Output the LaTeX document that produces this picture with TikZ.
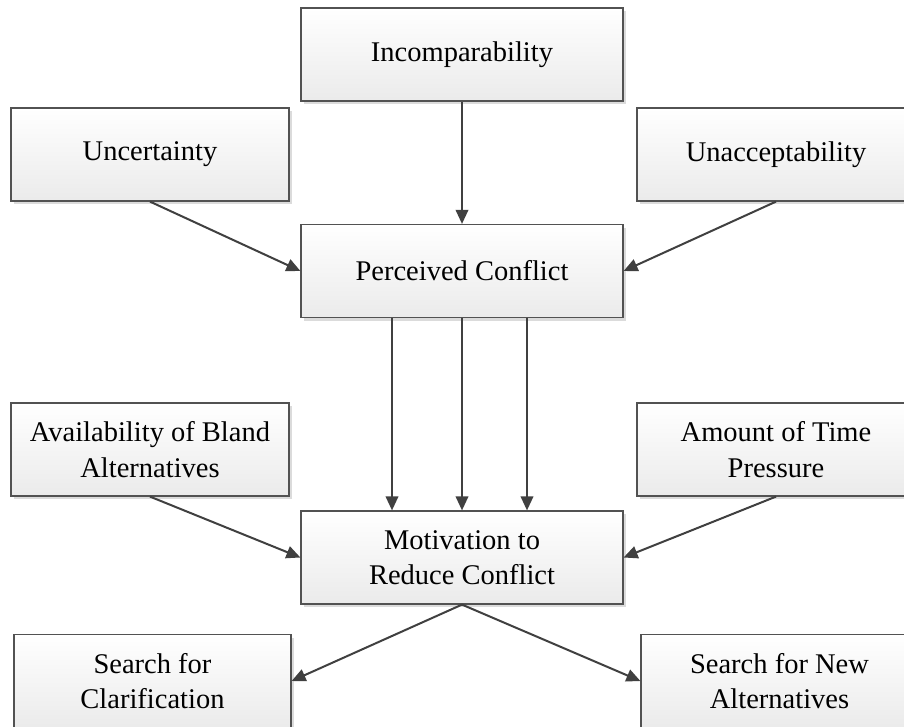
\documentclass[tikz,border=0pt]{standalone}
\usepackage{fontspec}
\setmainfont{Liberation Serif}
\usetikzlibrary{arrows.meta,shadows,calc}
\begin{document}
\begin{tikzpicture}[x=1pt,y=-1pt,
  box/.style={rectangle, draw=black!68, line width=1.2pt,
    top color=white, bottom color=black!8,
    general shadow={fill=black!14, shadow xshift=3pt, shadow yshift=-3pt},
    inner sep=0pt, align=center,
    font=\fontsize{28.5}{35.5}\selectfont},
  wide/.style={box, minimum width=322pt, minimum height=93pt},
  side/.style={box, minimum width=278pt, minimum height=93pt},
  arr/.style={draw=black!75, line width=2pt,
    -{Triangle[length=14pt,width=12.5pt]}}]
\useasboundingbox (0,0) rectangle (904,726);
\clip (0,0) rectangle (904,726);

% boxes
\node[wide] (inc)   at (462,54.5)  {Incomparability};
\node[side] (unc)   at (150,154.5) {Uncertainty};
\node[side] (una)   at (776,154.5) {Unacceptability};
\node[wide] (perc)  at (462,271)   {Perceived Conflict};
\node[side] (avail) at (150,449.5) {Availability of Bland\\Alternatives};
\node[side] (amt)   at (776,449.5) {Amount of Time\\Pressure};
\node[wide] (mot)   at (462,557.5) {Motivation to\\Reduce Conflict};
\node[side, minimum width=277pt] (clar) at (152.5,681) {Search for\\Clarification};
\node[side, minimum width=277pt] (new)  at (779.5,681) {Search for New\\Alternatives};

% connectors
\draw[arr] (inc.south) -- (perc.north);
\draw[arr] (unc.south) -- (perc.west);
\draw[arr] (una.south) -- (perc.east);
\draw[arr] ($(perc.south)+(-70,0)$) -- ($(mot.north)+(-70,0)$);
\draw[arr] (perc.south) -- (mot.north);
\draw[arr] ($(perc.south)+(65,0)$) -- ($(mot.north)+(65,0)$);
\draw[arr] (avail.south) -- (mot.west);
\draw[arr] (amt.south) -- (mot.east);
\draw[arr] (mot.south) -- (clar.east);
\draw[arr] (mot.south) -- (new.west);
\end{tikzpicture}
\end{document}
